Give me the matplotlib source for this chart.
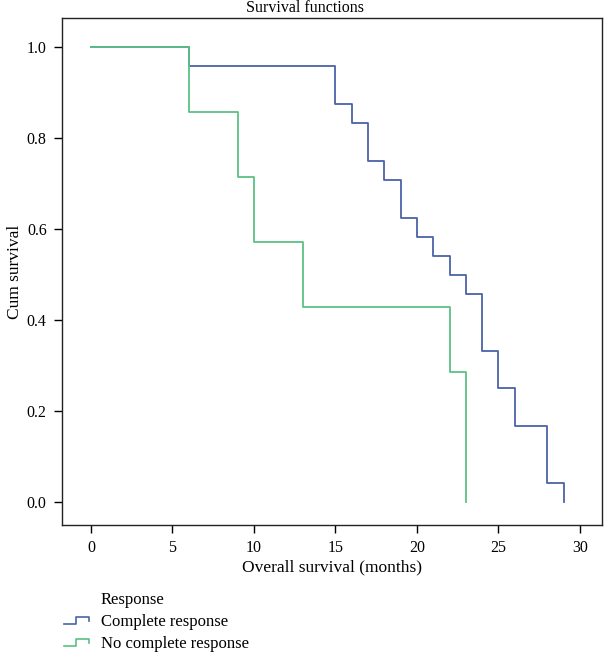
import matplotlib
matplotlib.use("Agg")
import matplotlib.pyplot as plt
from matplotlib.lines import Line2D

# Kaplan-Meier step data
cr_months = [0, 6, 15, 16, 17, 18, 19, 20, 21, 22, 23, 24, 25, 26, 28, 29]
cr_surv = [1.0, 0.958, 0.875, 0.833, 0.75, 0.708, 0.625, 0.583, 0.542, 0.5, 0.458, 0.333, 0.25, 0.167, 0.042, 0.0]

ncr_months = [0, 6, 9, 10, 13, 22, 23]
ncr_surv = [1.0, 0.857, 0.714, 0.571, 0.429, 0.286, 0.0]

series_names = ["Complete response", "No complete response"]
blue = "#4a62a8"
green = "#5cc084"

plt.rcParams["font.family"] = ["Liberation Serif", "DejaVu Serif"]

fig = plt.figure(figsize=(6.04, 6.68), dpi=100)
ax = fig.add_axes([0.1026, 0.2141, 0.894, 0.7589])

ax.step(cr_months, cr_surv, where="post", color=blue, lw=1.3)
ax.step(ncr_months, ncr_surv, where="post", color=green, lw=1.3)

ax.set_xlim(-1.78, 31.35)
ax.set_ylim(-0.05, 1.064)
ax.set_xticks([0, 5, 10, 15, 20, 25, 30])
ax.set_yticks([0.0, 0.2, 0.4, 0.6, 0.8, 1.0])
ax.set_yticklabels(["0.0", "0.2", "0.4", "0.6", "0.8", "1.0"])
ax.tick_params(direction="out", length=6, width=1, labelsize=11.5, pad=5)
for s in ax.spines.values():
    s.set_linewidth(1)
    s.set_color("#222222")

ax.set_xlabel("Overall survival (months)", fontsize=12.5, labelpad=2)
ax.set_ylabel("Cum survival", fontsize=12.5, labelpad=3)
fig.text(305 / 604, 1 - 8 / 668, "Survival functions", ha="center", va="center", fontsize=11.5)

# legend drawn below the axes, with small step icons
fig.text(101 / 604, 1 - 600 / 668, "Response", va="center", fontsize=12)
for i, (name, c) in enumerate(zip(series_names, [blue, green])):
    yc = 622 + 22 * i
    fig.text(101 / 604, 1 - yc / 668, name, va="center", fontsize=12)
    xs = [64, 76, 76, 89, 89]
    ys = [yc + 2, yc + 2, yc - 5, yc - 5, yc - 1]
    fig.add_artist(Line2D([x / 604 for x in xs], [1 - y / 668 for y in ys],
                          transform=fig.transFigure, color=c, lw=1.2))

fig.savefig("out.png", dpi=100)
